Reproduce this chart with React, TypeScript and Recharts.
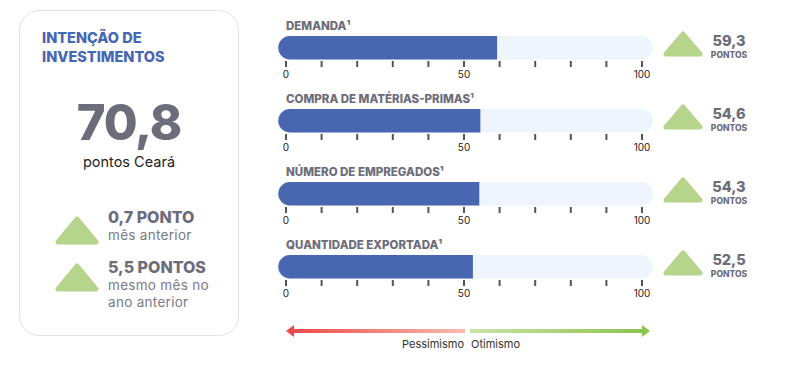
import { BarChart, Bar, XAxis, YAxis } from 'recharts'

const categories = ['DEMANDA¹', 'COMPRA DE MATÉRIAS-PRIMAS¹', 'NÚMERO DE EMPREGADOS¹', 'QUANTIDADE EXPORTADA¹']
const values = [59.3, 54.6, 54.3, 52.5]
const axisTicks = [0, 10, 20, 30, 40, 50, 60, 70, 80, 90, 100]
const labeledTicks = [0, 50, 100]

const headline = 70.8
const deltas = [
  { value: '0,7 PONTO', lines: ['mês anterior'] },
  { value: '5,5 PONTOS', lines: ['mesmo mês no', 'ano anterior'] },
]

const FONT = 'Inter, "Noto Sans", sans-serif'
const BLUE = '#4967b1'
const TRACK = '#eef5fd'
const GREEN = '#b6d48b'
const GRAY = '#6c6c7a'

const fmt = (v: number) => v.toFixed(1).replace('.', ',')

function Triangle({ w, h }: { w: number; h: number }) {
  return (
    <svg width={w} height={h} style={{ display: 'block' }}>
      <polygon
        points={`${w / 2},3 ${w - 3},${h - 3} 3,${h - 3}`}
        fill={GREEN}
        stroke={GREEN}
        strokeWidth={5}
        strokeLinejoin='round'
      />
    </svg>
  )
}

const TrackShape = (props: any) => {
  const { x, y, width, height } = props
  return <rect x={x - 9} y={y} width={width + 20} height={height} rx={height / 2} fill={TRACK} />
}

const BarShape = (props: any) => {
  const { x, y, width, height } = props
  const r = height / 2
  const d = `M${x + 4},${y} L${x + width},${y} L${x + width},${y + height} L${x + 4},${y + height} A${r},${r} 0 0 1 ${x + 4},${y} Z`
  return <path d={d} fill={BLUE} />
}

function Row({ name, value, top }: { name: string; value: number; top: number }) {
  const data = [{ name, value }]
  return (
    <>
      <div
        style={{
          position: 'absolute', left: 286, top: top - 16, fontFamily: FONT, fontWeight: 800,
          fontSize: 11.5, lineHeight: '14px', color: GRAY, whiteSpace: 'nowrap',
        }}
      >
        {name}
      </div>
      <div style={{ position: 'absolute', left: 270, top }}>
        <BarChart width={392} height={48} data={data} layout='vertical' margin={{ top: 0, right: 20, left: 16, bottom: 0 }}>
          <XAxis
            type='number'
            domain={[0, 100]}
            ticks={axisTicks}
            interval={0}
            axisLine={false}
            tickSize={6}
            tickMargin={4}
            height={22}
            tickLine={{ stroke: '#555', strokeWidth: 2 }}
            tickFormatter={(v: number) => (labeledTicks.includes(v) ? String(v) : '')}
            tick={{ fill: '#222', fontSize: 10, fontFamily: FONT }}
          />
          <YAxis type='category' dataKey='name' hide />
          <Bar
            dataKey='value'
            barSize={26}
            isAnimationActive={false}
            background={TrackShape}
            shape={BarShape}
          />
        </BarChart>
      </div>
      <div style={{ position: 'absolute', left: 663, top: top - 4 }}>
        <Triangle w={40} h={26} />
      </div>
      <div
        style={{
          position: 'absolute', left: 700, width: 58, top: top - 3, textAlign: 'center',
          fontFamily: FONT, color: GRAY, fontWeight: 800,
        }}
      >
        <div style={{ fontSize: 14.5, lineHeight: '18px' }}>{fmt(value)}</div>
        <div style={{ fontSize: 8.5, lineHeight: '10.5px' }}>PONTOS</div>
      </div>
    </>
  )
}

export default function App() {
  const rowTops = [35, 108, 181, 254]
  return (
    <div style={{ position: 'absolute', left: 0, top: 0, width: 795, height: 370, background: '#fff', fontFamily: FONT }}>
      <div
        style={{
          position: 'absolute', left: 19, top: 10, width: 220, height: 326,
          border: '1.5px solid #e2e2e8', borderRadius: 20, boxSizing: 'border-box',
        }}
      />
      <div style={{ position: 'absolute', left: 42, top: 28, color: '#4766b4', fontWeight: 800, fontSize: 14.5, lineHeight: '19px' }}>
        INTENÇÃO DE<br />INVESTIMENTOS
      </div>
      <div style={{ position: 'absolute', left: 19, width: 220, top: 93, textAlign: 'center', color: GRAY, fontWeight: 800, fontSize: 49, lineHeight: '60px', letterSpacing: -1 }}>
        {fmt(headline)}
      </div>
      <div style={{ position: 'absolute', left: 19, width: 220, top: 152, textAlign: 'center', color: '#222', fontSize: 14.5, lineHeight: '20px' }}>
        pontos Ceará
      </div>
      {deltas.map((d, i) => (
        <div key={i}>
          <div style={{ position: 'absolute', left: 55, top: 216 + i * 47 }}>
            <Triangle w={44} h={29} />
          </div>
          <div style={{ position: 'absolute', left: 108, top: 207 + i * 50, color: GRAY }}>
            <div style={{ fontWeight: 800, fontSize: 16, lineHeight: '20px' }}>{d.value}</div>
            {d.lines.map((l) => (
              <div key={l} style={{ fontSize: 13.5, lineHeight: '16.5px', letterSpacing: 0.3, color: '#7a7a88' }}>{l}</div>
            ))}
          </div>
        </div>
      ))}
      {categories.map((c, i) => (
        <Row key={c} name={c} value={values[i]} top={rowTops[i]} />
      ))}
      <svg style={{ position: 'absolute', left: 0, top: 0 }} width={795} height={370}>
        <defs>
          <linearGradient id='pess' x1='0' x2='1' y1='0' y2='0'>
            <stop offset='0%' stopColor='#ec4a4a' />
            <stop offset='100%' stopColor='#f7bcae' />
          </linearGradient>
          <linearGradient id='otim' x1='0' x2='1' y1='0' y2='0'>
            <stop offset='0%' stopColor='#cae3a6' />
            <stop offset='100%' stopColor='#8cc44d' />
          </linearGradient>
        </defs>
        <rect x={292} y={329} width={173} height={4} fill='url(#pess)' />
        <polygon points='286,331 294,325 294,337' fill='#ec4a4a' />
        <rect x={470} y={329} width={174} height={4} fill='url(#otim)' />
        <polygon points='650,331 642,325 642,337' fill='#8cc44d' />
        <text x={464} y={348} textAnchor='end' fontSize={11} fill='#333' fontFamily={FONT}>Pessimismo</text>
        <text x={471} y={348} fontSize={11} fill='#333' fontFamily={FONT}>Otimismo</text>
      </svg>
    </div>
  )
}
